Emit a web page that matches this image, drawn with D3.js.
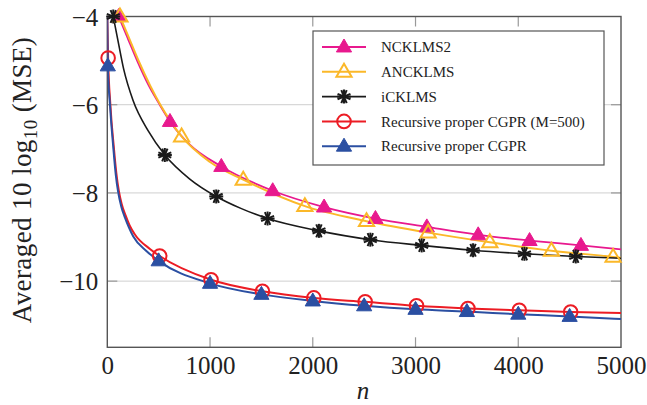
<!DOCTYPE html>
<html>
<head>
<meta charset="utf-8">
<script src="https://cdn.jsdelivr.net/npm/d3@7"></script>
<style>
  html, body { margin: 0; padding: 0; background: #fff; }
  svg { display: block; }
  svg text { font-family: "Liberation Serif", "Times New Roman", serif !important; fill: #222; }
</style>
</head>
<body>
<svg id="chart" width="647" height="405"></svg>
<script>
// ---- data: iteration n and averaged MSE (dB) for each algorithm ----
const xTicks = [0, 1000, 2000, 3000, 4000, 5000];
const yTicks = [-4, -6, -8, -10];

const nNCKLMS2   = [110, 200, 290, 400, 510, 610, 800, 1110, 1610, 2110, 2610, 3110, 3610, 4110, 4610, 5000];
const mseNCKLMS2 = [-4.0, -4.5, -5.0, -5.55, -6.0, -6.38, -6.9, -7.4, -7.95, -8.32, -8.58, -8.77, -8.95, -9.08, -9.19, -9.28];
const markNCKLMS2 = [110, 610, 1110, 1610, 2110, 2610, 3110, 3610, 4110, 4610];

const nANCKLMS   = [123, 210, 300, 420, 523, 623, 723, 1000, 1323, 1923, 2523, 3123, 3723, 4323, 4923, 5000];
const mseANCKLMS = [-4.0, -4.48, -4.98, -5.58, -6.03, -6.4, -6.72, -7.3, -7.7, -8.3, -8.64, -8.9, -9.12, -9.31, -9.45, -9.47];
const markANCKLMS = [123, 723, 1323, 1923, 2523, 3123, 3723, 4323, 4923];

const nICKLMS   = [58, 100, 160, 250, 400, 560, 800, 1060, 1300, 1560, 2060, 2560, 3060, 3560, 4060, 4560, 5000];
const mseICKLMS = [-4.0, -4.5, -5.2, -5.9, -6.6, -7.14, -7.68, -8.08, -8.35, -8.58, -8.86, -9.06, -9.19, -9.3, -9.38, -9.44, -9.48];
const markICKLMS = [58, 560, 1060, 1560, 2060, 2560, 3060, 3560, 4060, 4560];

const nCGPR500   = [0, 8, 30, 65, 88, 112, 140, 180, 220, 265, 415, 510, 1010, 1510, 2010, 2510, 3010, 3510, 4010, 4510, 5000];
const mseCGPR500 = [-4.0, -4.94, -6.0, -7.0, -7.55, -7.95, -8.25, -8.52, -8.75, -8.93, -9.27, -9.43, -9.97, -10.23, -10.38, -10.47, -10.56, -10.62, -10.66, -10.7, -10.72];
const markCGPR500 = [8, 510, 1010, 1510, 2010, 2510, 3010, 3510, 4010, 4510];

const nCGPR   = [0, 5, 26, 60, 82, 107, 135, 172, 210, 253, 383, 500, 1000, 1500, 2000, 2500, 3000, 3500, 4000, 4500, 5000];
const mseCGPR = [-4.0, -5.12, -6.0, -7.02, -7.58, -8.0, -8.3, -8.56, -8.78, -8.99, -9.32, -9.54, -10.05, -10.3, -10.45, -10.56, -10.64, -10.69, -10.75, -10.8, -10.86];
const markCGPR = [5, 500, 1000, 1500, 2000, 2500, 3000, 3500, 4000, 4500];

const series = [
  { name: "NCKLMS2", n: nNCKLMS2, v: mseNCKLMS2, marks: markNCKLMS2, color: "#e8198e", mark: "triFill", width: 1.8 },
  { name: "ANCKLMS", n: nANCKLMS, v: mseANCKLMS, marks: markANCKLMS, color: "#fbb829", mark: "triOpen", width: 2 },
  { name: "iCKLMS", n: nICKLMS, v: mseICKLMS, marks: markICKLMS, color: "#1a1a1a", mark: "star", width: 1.6 },
  { name: "Recursive proper CGPR (M=500)", n: nCGPR500, v: mseCGPR500, marks: markCGPR500, color: "#ec1c24", mark: "circle", width: 2 },
  { name: "Recursive proper CGPR", n: nCGPR, v: mseCGPR, marks: markCGPR, color: "#2b4fa2", mark: "triFill", width: 2 }
];

// ---- layout ----
const svg = d3.select("#chart");
const plotL = 107.3, plotR = 621, plotT = 16.5, plotB = 347.3;
const x = d3.scaleLinear().domain([0, 5000]).range([plotL, plotR]);
const y = d3.scaleLinear().domain([-11.5, -4]).range([plotB, plotT]);

svg.append("defs").append("clipPath").attr("id", "plotClip")
  .append("rect").attr("x", plotL).attr("y", plotT - 1).attr("width", plotR - plotL).attr("height", plotB - plotT + 1);

// horizontal grid lines (the top value coincides with the frame)
svg.append("g").selectAll("line").data(yTicks.slice(1)).join("line")
  .attr("x1", plotL).attr("x2", plotR)
  .attr("y1", d => y(d)).attr("y2", d => y(d))
  .attr("stroke", "#cfcfcf").attr("stroke-width", 1);

// inward tick marks on all four sides
const tickLen = 10;
const tk = svg.append("g").attr("stroke", "#999").attr("stroke-width", 1.2);
xTicks.slice(1, -1).forEach(t => {
  tk.append("line").attr("x1", x(t)).attr("x2", x(t)).attr("y1", plotB).attr("y2", plotB - tickLen);
  tk.append("line").attr("x1", x(t)).attr("x2", x(t)).attr("y1", plotT).attr("y2", plotT + tickLen);
});
yTicks.slice(1).forEach(t => {
  tk.append("line").attr("x1", plotL).attr("x2", plotL + tickLen).attr("y1", y(t)).attr("y2", y(t));
  tk.append("line").attr("x1", plotR).attr("x2", plotR - tickLen).attr("y1", y(t)).attr("y2", y(t));
});

// frame
svg.append("rect").attr("x", plotL).attr("y", plotT).attr("width", plotR - plotL).attr("height", plotB - plotT)
  .attr("fill", "none").attr("stroke", "#555").attr("stroke-width", 1.4);

// tick labels via d3 axes (axis lines hidden, text kept)
const xAxis = svg.append("g").attr("transform", `translate(0,${plotB})`)
  .call(d3.axisBottom(x).tickValues(xTicks).tickSize(0).tickPadding(0).tickFormat(d3.format("d")));
xAxis.select(".domain").remove();
xAxis.selectAll("text").attr("font-size", 25).attr("dy", null).attr("y", 27).attr("fill", "#222");

const yAxis = svg.append("g").attr("transform", `translate(${plotL},0)`)
  .call(d3.axisLeft(y).tickValues(yTicks).tickSize(0).tickPadding(9)
    .tickFormat(d => "\u2212" + Math.abs(d)));
yAxis.select(".domain").remove();
yAxis.selectAll("text").attr("font-size", 25).attr("dy", "0.35em").attr("fill", "#222");

// axis titles
svg.append("text").attr("x", 363).attr("y", 399).attr("text-anchor", "middle")
  .attr("font-size", 25).attr("font-style", "italic").text("n");

const yl = svg.append("text").attr("transform", "translate(31,180) rotate(-90)")
  .attr("text-anchor", "middle").attr("font-size", 27).attr("letter-spacing", 0.4);
yl.append("tspan").text("Averaged 10 log");
yl.append("tspan").attr("font-size", 19).attr("dy", 6).text("10");
yl.append("tspan").attr("dy", -6).text(" (MSE)");

// ---- marker drawing ----
function drawMark(g, type, color, cx, cy) {
  if (type === "triFill" || type === "triOpen") {
    const s = 8;
    const pts = [[cx, cy - s], [cx - s * 0.95, cy + s * 0.62], [cx + s * 0.95, cy + s * 0.62]];
    g.append("path").attr("d", "M" + pts.map(p => p.join(",")).join("L") + "Z")
      .attr("fill", type === "triFill" ? color : "none")
      .attr("stroke", color).attr("stroke-width", type === "triFill" ? 1 : 2)
      .attr("stroke-linejoin", "miter");
  } else if (type === "circle") {
    g.append("circle").attr("cx", cx).attr("cy", cy).attr("r", 6.8)
      .attr("fill", "none").attr("stroke", color).attr("stroke-width", 2);
  } else if (type === "star") {
    const r = 7;
    for (let k = 0; k < 4; k++) {
      const a = k * Math.PI / 4 + Math.PI / 8;
      g.append("line")
        .attr("x1", cx - r * Math.cos(a)).attr("y1", cy - r * Math.sin(a))
        .attr("x2", cx + r * Math.cos(a)).attr("y2", cy + r * Math.sin(a))
        .attr("stroke", color).attr("stroke-width", 2);
    }
    for (let k = 0; k < 2; k++) {
      const a = k * Math.PI / 2;
      g.append("line")
        .attr("x1", cx - r * Math.cos(a)).attr("y1", cy - r * Math.sin(a))
        .attr("x2", cx + r * Math.cos(a)).attr("y2", cy + r * Math.sin(a))
        .attr("stroke", color).attr("stroke-width", 2);
    }
  }
}

// ---- curves and markers ----
const line = d3.line().x(d => x(d[0])).y(d => y(d[1])).curve(d3.curveMonotoneX);
const curves = svg.append("g").attr("clip-path", "url(#plotClip)");
const marks = svg.append("g");
series.forEach(s => {
  const pts = s.n.map((n, i) => [n, s.v[i]]);
  curves.append("path").datum(pts).attr("d", line)
    .attr("fill", "none").attr("stroke", s.color).attr("stroke-width", s.width)
    .attr("stroke-linejoin", "round");
});
series.forEach(s => {
  const g = marks.append("g");
  s.marks.forEach(m => {
    const i = s.n.indexOf(m);
    drawMark(g, s.mark, s.color, x(s.n[i]), y(s.v[i]));
  });
});

// ---- legend ----
const lg = svg.append("g");
lg.append("rect").attr("x", 313).attr("y", 31).attr("width", 291).attr("height", 134)
  .attr("fill", "#fff").attr("stroke", "#555").attr("stroke-width", 1.2);
series.forEach((s, i) => {
  const yy = 47 + i * 24.8;
  lg.append("line").attr("x1", 322).attr("x2", 366).attr("y1", yy).attr("y2", yy)
    .attr("stroke", s.color).attr("stroke-width", s.width);
  drawMark(lg, s.mark, s.color, 344, yy);
  lg.append("text").attr("x", 381).attr("y", yy).attr("dy", "0.35em")
    .attr("font-size", 15).text(s.name);
});
</script>
</body>
</html>
